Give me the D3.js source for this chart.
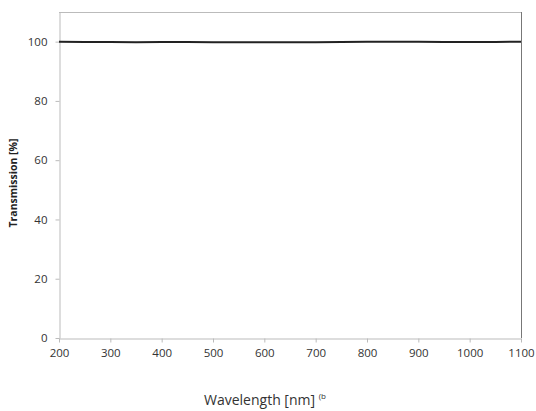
<!DOCTYPE html>
<html>
<head>
<meta charset="utf-8">
<script src="https://cdn.jsdelivr.net/npm/d3@7"></script>
<style>
  body { margin: 0; background: #fff; }
  text { font-family: "Open Sans", sans-serif; }
</style>
</head>
<body>
<script>
// wavelength samples (nm) and measured transmission (%)
const wavelengths = [200, 250, 300, 350, 400, 450, 500, 550, 600, 650, 700, 750, 800, 850, 900, 950, 1000, 1050, 1100];
const transmission = [100.0, 99.9, 99.9, 99.8, 99.9, 99.9, 99.8, 99.8, 99.8, 99.8, 99.8, 99.9, 100.0, 100.0, 100.0, 99.9, 99.9, 99.9, 100.0];
const xTicks = [200, 300, 400, 500, 600, 700, 800, 900, 1000, 1100];
const yTicks = [0, 20, 40, 60, 80, 100];

const W = 536, H = 411;
const m = {left: 59, top: 12, right: 521, bottom: 338};

const svg = d3.select("body").append("svg")
    .attr("width", W)
    .attr("height", H);

const x = d3.scaleLinear().domain([200, 1100]).range([m.left, m.right]);
const y = d3.scaleLinear().domain([0, 110]).range([m.bottom, m.top]);

// frame: top and right edges
svg.append("line")
    .attr("x1", m.left).attr("x2", m.right)
    .attr("y1", m.top + 0.5).attr("y2", m.top + 0.5)
    .attr("stroke", "#bbb");
svg.append("line")
    .attr("x1", m.right + 0.5).attr("x2", m.right + 0.5)
    .attr("y1", m.top).attr("y2", m.bottom)
    .attr("stroke", "#777");

// axes
const xAxis = svg.append("g")
    .attr("transform", `translate(0,${m.bottom + 0.5})`)
    .call(d3.axisBottom(x).tickValues(xTicks).tickFormat(d3.format("d"))
        .tickSize(4).tickSizeOuter(0).tickPadding(6));
const yAxis = svg.append("g")
    .attr("transform", `translate(${m.left + 0.5},0)`)
    .call(d3.axisLeft(y).tickValues(yTicks).tickFormat(d3.format("d"))
        .tickSize(4).tickSizeOuter(0).tickPadding(8));

[xAxis, yAxis].forEach(g => {
    g.select(".domain").attr("stroke", "#bbb");
    g.selectAll(".tick line").attr("stroke", "#bbb");
    g.selectAll(".tick text")
        .style("font-size", "11.5px")
        .style("font-family", "Open Sans, sans-serif")
        .attr("fill", "#333");
});

// transmission curve
const line = d3.line()
    .x((d, i) => x(wavelengths[i]))
    .y(d => y(d));
svg.append("path")
    .datum(transmission)
    .attr("d", line)
    .attr("fill", "none")
    .attr("stroke", "#222")
    .attr("stroke-width", 2);

// axis titles
svg.append("text")
    .attr("transform", `translate(17,${(m.top + m.bottom) / 2 + 8}) rotate(-90)`)
    .attr("text-anchor", "middle")
    .style("font-size", "10.5px")
    .style("font-weight", "bold")
    .attr("fill", "#222")
    .text("Transmission [%]");

const xl = svg.append("text")
    .attr("x", 204)
    .attr("y", 405)
    .style("font-size", "14px")
    .attr("fill", "#333");
xl.append("tspan").text("Wavelength [nm] ");
xl.append("tspan")
    .attr("dy", -6)
    .style("font-size", "8px")
    .text("(b");
</script>
</body>
</html>
